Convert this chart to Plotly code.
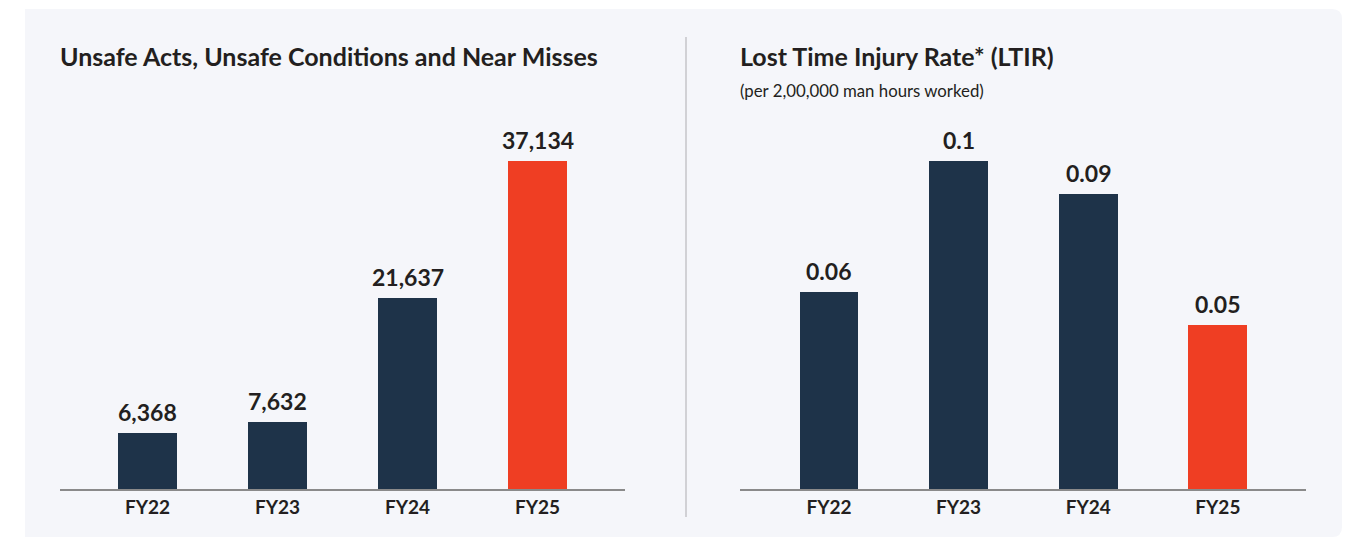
import plotly.graph_objects as go

# ---- data ----
years = ["FY22", "FY23", "FY24", "FY25"]
unsafe_values = [6368, 7632, 21637, 37134]
unsafe_labels = ["6,368", "7,632", "21,637", "37,134"]
ltir_values = [0.06, 0.10, 0.09, 0.05]
ltir_labels = ["0.06", "0.1", "0.09", "0.05"]
bar_colors = ["#1e3349", "#1e3349", "#1e3349", "#ef3e23"]

title_left = "Unsafe Acts, Unsafe Conditions and Near Misses"
title_right = "Lost Time Injury Rate* (LTIR)"
subtitle_right = "(per 2,00,000 man hours worked)"

W, H = 1351, 538
FONT = "Lato, 'Noto Sans', sans-serif"
TXT = "#231f20"

def px_x(x):
    return x / W

def px_y(y):
    return 1 - y / H

fig = go.Figure()

fig.add_trace(go.Bar(x=years, y=unsafe_values, marker_color=bar_colors,
                     marker_line_width=0, width=0.454,
                     xaxis="x", yaxis="y", hoverinfo="x+y"))
fig.add_trace(go.Bar(x=years, y=ltir_values, marker_color=bar_colors,
                     marker_line_width=0, width=0.454,
                     xaxis="x2", yaxis="y2", hoverinfo="x+y"))

annotations = []
for xa, ya, vals, labs in [("x", "y", unsafe_values, unsafe_labels),
                           ("x2", "y2", ltir_values, ltir_labels)]:
    for c, v, t in zip(years, vals, labs):
        annotations.append(dict(x=c, y=v, xref=xa, yref=ya, text=f"<b>{t}</b>",
                                showarrow=False, yanchor="bottom", yshift=5,
                                font=dict(family=FONT, size=23, color=TXT)))

annotations += [
    dict(x=px_x(58), y=px_y(56), xref="paper", yref="paper", xanchor="left",
         yanchor="middle", text=f"<b>{title_left}</b>", showarrow=False,
         font=dict(family=FONT, size=25, color=TXT)),
    dict(x=px_x(738), y=px_y(56), xref="paper", yref="paper", xanchor="left",
         yanchor="middle", text=f"<b>{title_right}</b>", showarrow=False,
         font=dict(family=FONT, size=25, color=TXT)),
    dict(x=px_x(738), y=px_y(91), xref="paper", yref="paper", xanchor="left",
         yanchor="middle", text=subtitle_right, showarrow=False,
         font=dict(family=FONT, size=16.8, color=TXT)),
]

top_px, base_px = 100, 489
ydom = [px_y(base_px), px_y(top_px)]
plot_h = base_px - top_px

axis_common = dict(type="category", showline=True, linecolor="#8a8a8a", linewidth=2,
                   ticks="", showgrid=False, zeroline=False, fixedrange=True,
                   tickfont=dict(family=FONT, size=19, color=TXT))
yaxis_common = dict(visible=False, showgrid=False, zeroline=False, fixedrange=True)

fig.update_layout(
    width=W, height=H, margin=dict(l=0, r=0, t=0, b=0),
    paper_bgcolor="#ffffff", plot_bgcolor="rgba(0,0,0,0)",
    showlegend=False, bargap=0,
    xaxis=dict(domain=[px_x(60), px_x(625)], range=[-0.673, 3.673],
               anchor="y", tickvals=years, ticktext=[f"<b>{y}</b>" for y in years],
               **axis_common),
    yaxis=dict(domain=ydom, range=[0, 37134 * plot_h / 328], anchor="x", **yaxis_common),
    xaxis2=dict(domain=[px_x(740), px_x(1306)], range=[-0.686, 3.68],
                anchor="y2", tickvals=years, ticktext=[f"<b>{y}</b>" for y in years],
                **axis_common),
    yaxis2=dict(domain=ydom, range=[0, 0.1 * plot_h / 328], anchor="x2", **yaxis_common),
    annotations=annotations,
    shapes=[
        dict(type="path", xref="paper", yref="paper", layer="below",
             path=("M {x0},{y0b} L {x1a},{y0b} Q {x1},{y0b} {x1},{y0c} "
                   "L {x1},{y1c} Q {x1},{y1} {x1a},{y1} L {x0},{y1} Z").format(
                 x0=px_x(25), x1=px_x(1342), x1a=px_x(1332),
                 y0b=px_y(9), y0c=px_y(19), y1=px_y(537), y1c=px_y(527)),
             fillcolor="#f5f6fa", line=dict(width=0)),
        dict(type="line", xref="paper", yref="paper", x0=px_x(686), x1=px_x(686),
             y0=px_y(37), y1=px_y(517), line=dict(color="#c4c4c8", width=1.5)),
    ],
)

fig.write_html("out.html", config={"displayModeBar": False},
               post_script="document.body.style.margin='0';document.body.style.overflow='hidden';")
